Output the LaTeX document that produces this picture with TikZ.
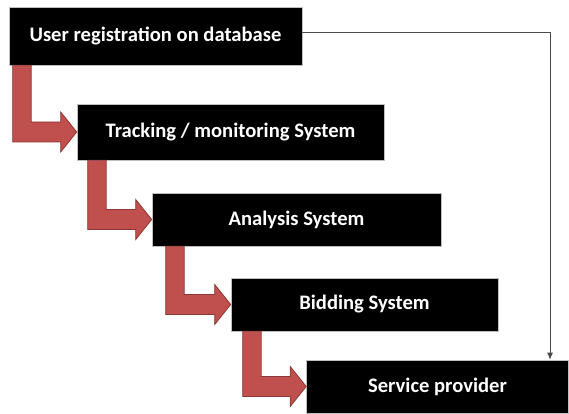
\documentclass[tikz,border=0pt]{standalone}
\usepackage{fontspec}
\setmainfont{Carlito}
\usetikzlibrary{calc,arrows.meta}
\definecolor{arrfill}{HTML}{C0504D}
\definecolor{arrline}{HTML}{8C3836}
\definecolor{conn}{HTML}{4A4A4A}
\tikzset{
  box/.style={fill=black, draw=gray!50, line width=0.6pt, text=white, inner sep=0pt,
    font=\fontsize{20.6}{24}\selectfont\bfseries},
  bent/.style={fill=arrfill, draw=arrline, line width=0.8pt, line join=miter},
}
\newcommand{\bentarr}[3]{%
  \filldraw[bent] let \p1=(#1.south west), \p2=(#2.west) in
    (\x1+#3pt,\y1) -- (\x1+#3pt+18.5pt,\y1) -- (\x1+#3pt+18.5pt,\y2+10pt) --
    (\x2-16pt,\y2+10pt) -- (\x2-16pt,\y2+20pt) -- (\x2,\y2) --
    (\x2-16pt,\y2-20pt) -- (\x2-16pt,\y2-10pt) -- (\x1+#3pt,\y2-10pt) -- cycle;}
\begin{document}
\begin{tikzpicture}[x=1pt,y=1pt]
\useasboundingbox (0,0) rectangle (569,-414);
\node[box, minimum width=293, minimum height=58] (b1) at (155.5,-36) {User registration on database};
\node[box, minimum width=307, minimum height=56] (b2) at (230.5,-132) {Tracking / monitoring System};
\node[box, minimum width=289, minimum height=53] (b3) at (296.5,-219.5) {Analysis System};
\node[box, minimum width=267, minimum height=53] (b4) at (364.5,-304.5) {Bidding System};
\node[box, minimum width=262, minimum height=53] (b5) at (437.5,-386.5) {Service provider};
\bentarr{b1}{b2}{4}
\bentarr{b2}{b3}{11}
\bentarr{b3}{b4}{14}
\bentarr{b4}{b5}{12}
\coordinate (c) at (550,-32);
\draw[conn, line width=0.9pt, -{Latex[length=7pt,width=6pt]}] ([yshift=4pt]b1.east) -- (c) -- (c |- b5.north);
\end{tikzpicture}
\end{document}
